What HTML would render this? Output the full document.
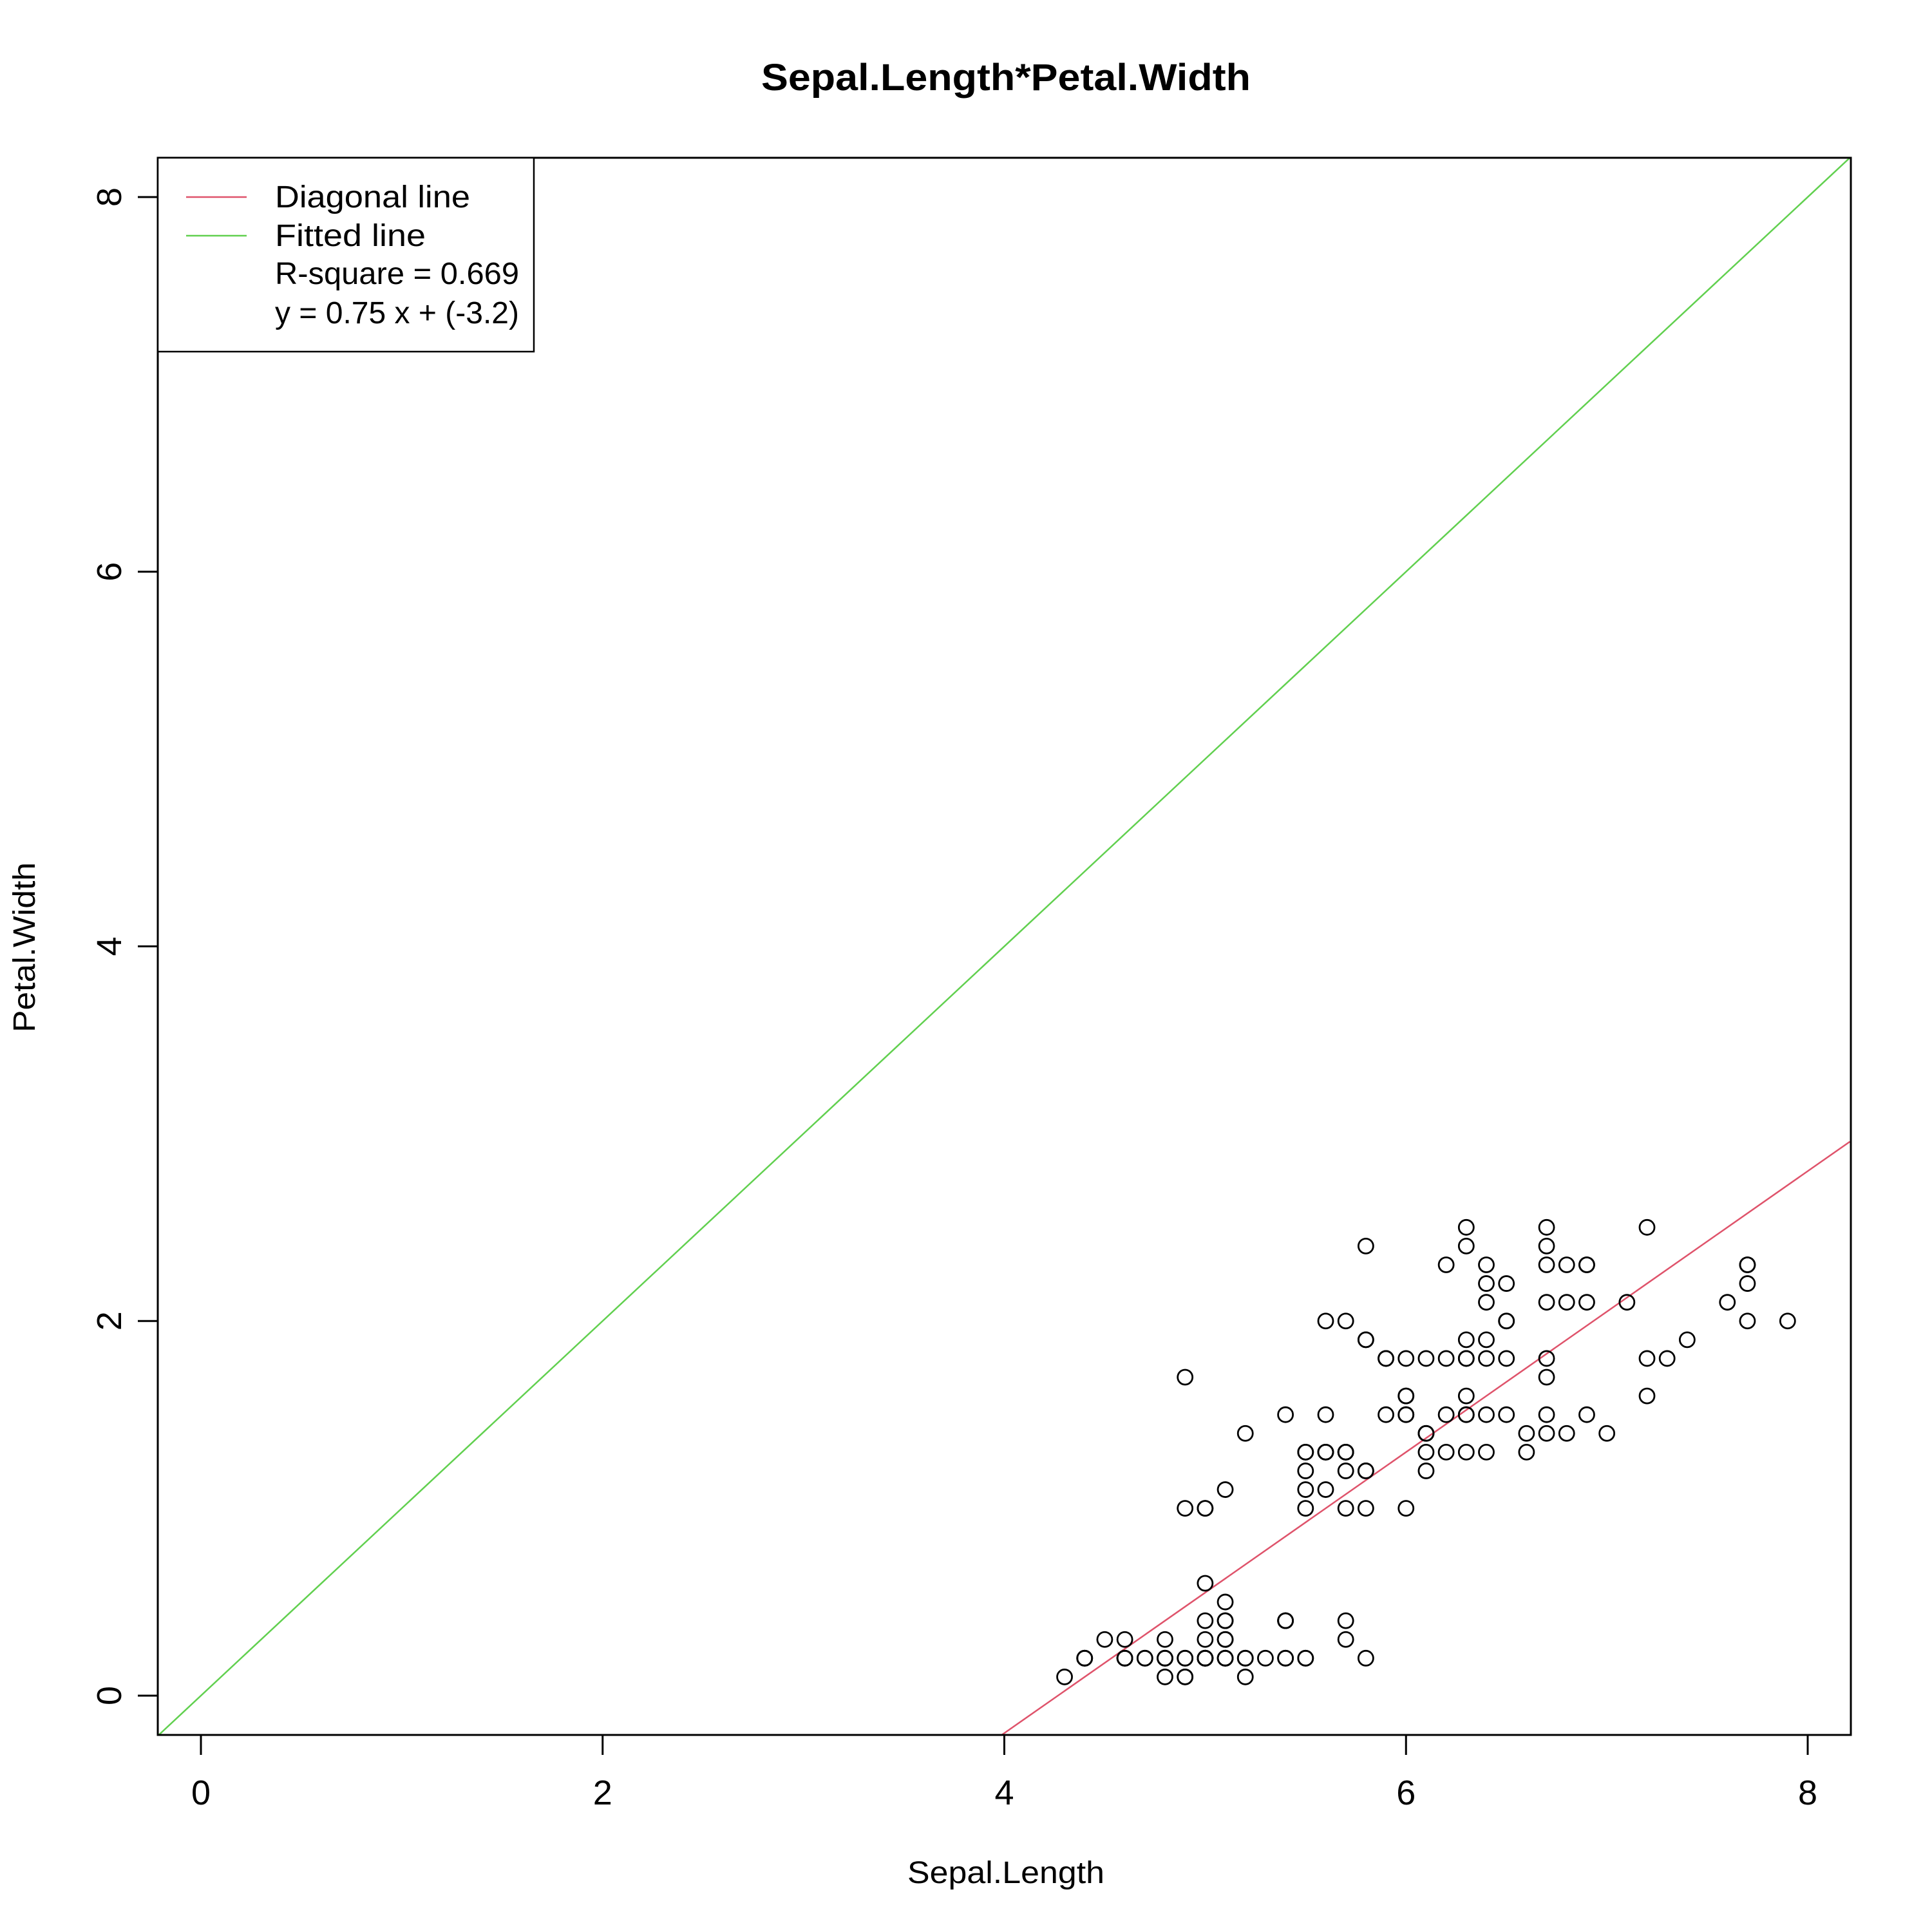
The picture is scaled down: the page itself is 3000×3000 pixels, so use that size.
<!DOCTYPE html>
<html><head><meta charset="utf-8"><style>html,body{margin:0;padding:0;background:#fff;width:3000px;height:3000px;overflow:hidden}svg{display:block}</style></head>
<body>
<svg id="chart" width="3000" height="3000" viewBox="0 0 3000 3000" xmlns="http://www.w3.org/2000/svg" font-family="'Liberation Sans', sans-serif" style="overflow:hidden">
<defs><clipPath id="plotclip"><rect x="245" y="245" width="2629" height="2449"/></clipPath></defs>
<rect width="3000" height="3000" fill="#fff"/>
<text x="1562" y="140" text-anchor="middle" font-size="58" font-weight="bold" textLength="760" lengthAdjust="spacingAndGlyphs">Sepal.Length*Petal.Width</text>
<g id="axes"></g>
<g id="lines" clip-path="url(#plotclip)"></g>
<g id="points"></g>
<rect x="245" y="245" width="2629" height="2449" fill="none" stroke="#000" stroke-width="3"/>
<text x="1562" y="2924" text-anchor="middle" font-size="48" textLength="306" lengthAdjust="spacingAndGlyphs">Sepal.Length</text>
<text transform="translate(54,1471) rotate(-90)" text-anchor="middle" font-size="48" textLength="264" lengthAdjust="spacingAndGlyphs">Petal.Width</text>
<g>
<rect x="245" y="245" width="584" height="301" fill="#fff" stroke="#000" stroke-width="2.5"/>
<line x1="289" y1="306" x2="383" y2="306" stroke="#DF536B" stroke-width="2.5"/>
<line x1="289" y1="366" x2="383" y2="366" stroke="#61D04F" stroke-width="2.5"/>
<text x="427" y="322" font-size="48" textLength="303" lengthAdjust="spacingAndGlyphs">Diagonal line</text>
<text x="427" y="382" font-size="48" textLength="234" lengthAdjust="spacingAndGlyphs">Fitted line</text>
<text x="427" y="441" font-size="48" textLength="379" lengthAdjust="spacingAndGlyphs">R-square = 0.669</text>
<text x="427" y="502" font-size="48" textLength="379" lengthAdjust="spacingAndGlyphs">y = 0.75 x + (-3.2)</text>
</g>
</svg>
<script>
const sepalLength=[5.1,4.9,4.7,4.6,5.0,5.4,4.6,5.0,4.4,4.9,5.4,4.8,4.8,4.3,5.8,5.7,5.4,5.1,5.7,5.1,5.4,5.1,4.6,5.1,4.8,5.0,5.0,5.2,5.2,4.7,4.8,5.4,5.2,5.5,4.9,5.0,5.5,4.9,4.4,5.1,5.0,4.5,4.4,5.0,5.1,4.8,5.1,4.6,5.3,5.0,
7.0,6.4,6.9,5.5,6.5,5.7,6.3,4.9,6.6,5.2,5.0,5.9,6.0,6.1,5.6,6.7,5.6,5.8,6.2,5.6,5.9,6.1,6.3,6.1,6.4,6.6,6.8,6.7,6.0,5.7,5.5,5.5,5.8,6.0,5.4,6.0,6.7,6.3,5.6,5.5,5.5,6.1,5.8,5.0,5.6,5.7,5.7,6.2,5.1,5.7,
6.3,5.8,7.1,6.3,6.5,7.6,4.9,7.3,6.7,7.2,6.5,6.4,6.8,5.7,5.8,6.4,6.5,7.7,7.7,6.0,6.9,5.6,7.7,6.3,6.7,7.2,6.2,6.1,6.4,7.2,7.4,7.9,6.4,6.3,6.1,7.7,6.3,6.4,6.0,6.9,6.7,6.9,5.8,6.8,6.7,6.7,6.3,6.5,6.2,5.9];
const petalWidth=[0.2,0.2,0.2,0.2,0.2,0.4,0.3,0.2,0.2,0.1,0.2,0.2,0.1,0.1,0.2,0.4,0.4,0.3,0.3,0.3,0.2,0.4,0.2,0.5,0.2,0.2,0.4,0.2,0.2,0.2,0.2,0.4,0.1,0.2,0.2,0.2,0.2,0.1,0.2,0.2,0.3,0.3,0.2,0.6,0.4,0.3,0.2,0.2,0.2,0.2,
1.4,1.5,1.5,1.3,1.5,1.3,1.6,1.0,1.3,1.4,1.0,1.5,1.0,1.4,1.3,1.4,1.5,1.0,1.5,1.1,1.8,1.3,1.5,1.2,1.3,1.4,1.4,1.7,1.5,1.0,1.1,1.0,1.2,1.6,1.5,1.6,1.5,1.3,1.3,1.3,1.2,1.4,1.2,1.0,1.3,1.2,1.3,1.3,1.1,1.3,
2.5,1.9,2.1,1.8,2.2,2.1,1.7,1.8,1.8,2.5,2.0,1.9,2.1,2.0,2.4,2.3,1.8,2.2,2.3,1.5,2.3,2.0,2.0,1.8,2.1,1.8,1.8,1.8,2.1,1.6,1.9,2.0,2.2,1.5,1.4,2.3,2.4,1.8,1.8,2.1,2.4,2.3,1.9,2.3,2.5,2.3,1.9,2.0,2.3,1.8];
const xTicks=[0,2,4,6,8];
const yTicks=[0,2,4,6,8];
const fitSlope=[0.75];
const fitIntercept=[-3.2];
const xDomain=[-0.21,8.21];

const NS="http://www.w3.org/2000/svg";
function sx(v){return 312+(v-0)*(2807-312)/8;}
function sy(v){return 2633-(v-0)*(2633-306)/8;}
function mk(tag,attrs,parent){const e=document.createElementNS(NS,tag);for(const k in attrs)e.setAttribute(k,attrs[k]);parent.appendChild(e);return e;}
const axes=document.getElementById('axes');
xTicks.forEach(t=>{
  const l=mk('line',{x1:sx(t),y1:2694,x2:sx(t),y2:2725,stroke:'#000','stroke-width':3},axes);
  
  
  const tx=mk('text',{x:sx(t),y:2802,'text-anchor':'middle','font-size':54},axes);
  tx.textContent=t;
  
  
});
yTicks.forEach(t=>{
  const l=mk('line',{x1:245,y1:sy(t),x2:214,y2:sy(t),stroke:'#000','stroke-width':3},axes);
  
  
  const tx=mk('text',{transform:`translate(188,${sy(t)}) rotate(-90)`,'text-anchor':'middle','font-size':54},axes);
  tx.textContent=t;
  
  
});
const lines=document.getElementById('lines');
const d=mk('line',{x1:sx(xDomain[0]),y1:sy(xDomain[0]),x2:sx(xDomain[1]),y2:sy(xDomain[1]),stroke:'#61D04F','stroke-width':2.5},lines);


const f=mk('line',{x1:sx(xDomain[0]),y1:sy(fitSlope[0]*xDomain[0]+fitIntercept[0]),x2:sx(xDomain[1]),y2:sy(fitSlope[0]*xDomain[1]+fitIntercept[0]),stroke:'#DF536B','stroke-width':2.5},lines);


const pts=document.getElementById('points');
sepalLength.forEach((x,i)=>{
  const c=mk('circle',{cx:sx(x),cy:sy(petalWidth[i]),r:11.5,fill:'none',stroke:'#000','stroke-width':2.8},pts);
  
  
});
</script>
</body></html>
